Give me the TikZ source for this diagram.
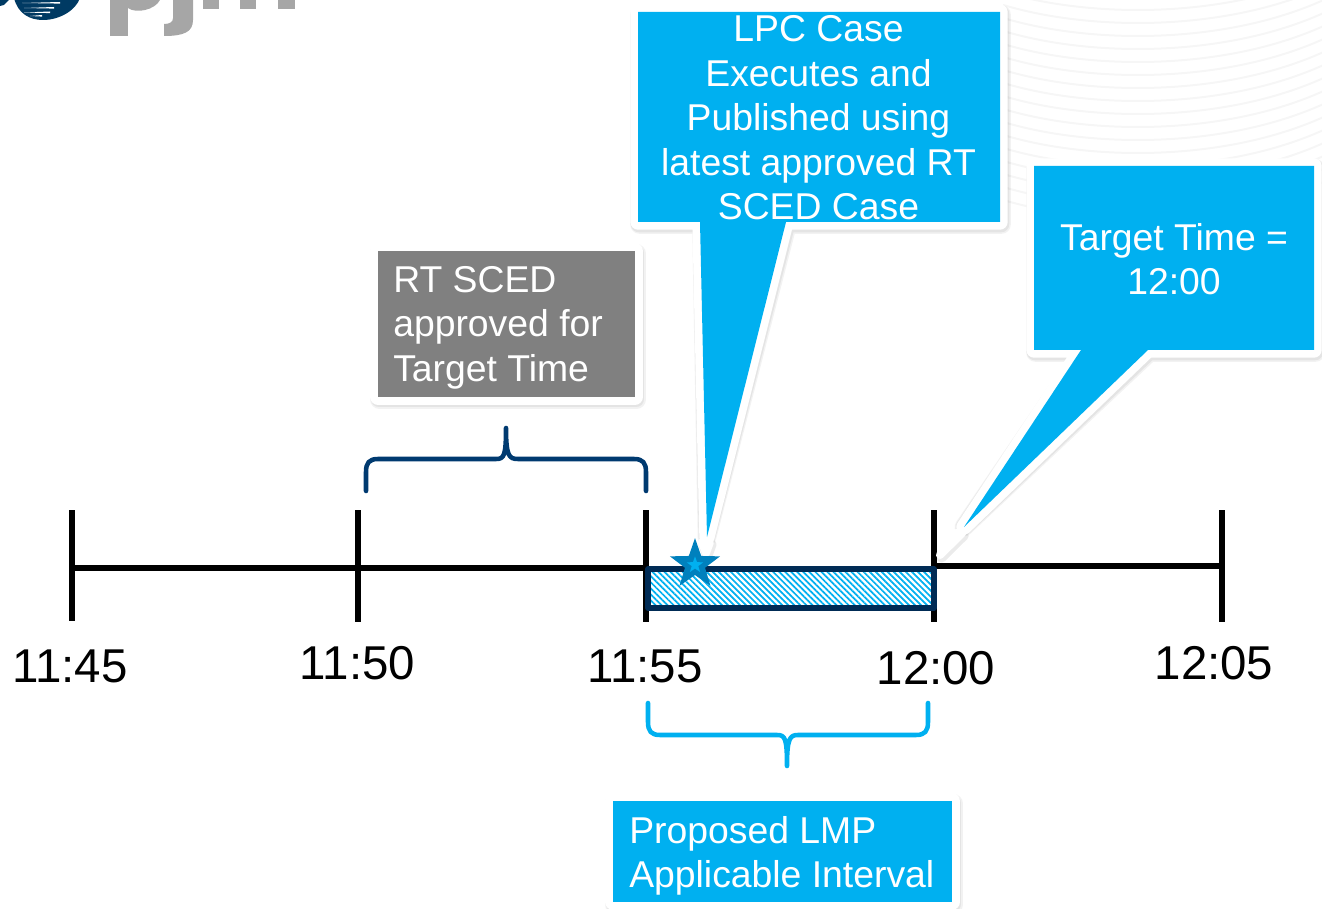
\documentclass[tikz,border=0pt]{standalone}
\usepackage{fontspec}
\setmainfont{Liberation Sans}
\usetikzlibrary{shapes.geometric,patterns.meta}
\definecolor{pjmblue}{HTML}{00B0F0}
\definecolor{pjmnavy}{HTML}{002B55}
\definecolor{bracenavy}{HTML}{003A70}
\definecolor{logonavy}{HTML}{003A63}
\definecolor{logogray}{HTML}{A6A6A6}
\definecolor{stargreen}{HTML}{0080BD}
\definecolor{boxgray}{HTML}{808080}
\definecolor{swirl}{HTML}{F6F6F6}
\tikzset{
  x=0.75pt,y=-0.75pt,
  tick/.style={line width=4.2pt,black},
  axis/.style={line width=4pt,black},
  shadowa/.style={draw=black,opacity=.05,line width=14pt,line join=round,shift={(1.5,2.5)}},
  shadowb/.style={draw=black,opacity=.06,line width=12.5pt,line join=round,shift={(1,2)}},
  borderw/.style={draw=white,line width=11.5pt,line join=round},
  tipshadow/.style={draw=black,opacity=.08,line width=7.5pt,line join=round,shift={(1.5,2.5)}},
  tipwhite/.style={draw=white,fill=white,line width=6pt,line join=round},
  bluecall/.style={fill=pjmblue},
  graycall/.style={fill=boxgray},
  bracea/.style={line width=3.4pt,bracenavy,line cap=round,line join=round},
  braceb/.style={line width=3.4pt,pjmblue,line cap=round,line join=round},
  timelabel/.style={font=\fontsize{35.6pt}{40pt}\selectfont,text=black,inner sep=0pt},
  calltext/.style={font=\fontsize{28pt}{33.4pt}\selectfont,text=white,inner sep=0pt,align=center},
  lefttext/.style={font=\fontsize{28pt}{33.4pt}\selectfont,text=white,inner sep=0pt,align=left,anchor=west},
}
\newcommand{\softbox}[2]{%
  \draw[shadowa] #2; \draw[shadowb] #2; \draw[borderw] #2; \fill[#1] #2;}
\begin{document}
\begin{tikzpicture}
\useasboundingbox (0,0) rectangle (1322,909);
\begin{scope}
\clip (0,0) rectangle (1322,909);
% faint background swirl
\begin{scope}
\clip (1003,0) -- (1322,0) -- (1322,240) -- (1040,240) -- (1003,200) -- cycle;
\foreach \y in {-30,-17,...,200}{
  \draw[swirl,line width=1.5pt] (1000,\y+8) .. controls (1090,\y+36) and (1230,\y+36) .. (1330,\y-12);
}
\end{scope}
% logo
\begin{scope}
\clip (0,0) rectangle (85,24);
\fill[logonavy] (0,-2) -- (80,-2) .. controls (76,10) and (60,20) .. (43,20) .. controls (30,20) and (18,14) .. (14,-2) -- cycle;
\fill[logonavy] (0,0) -- (9,0) -- (4,5) -- (0,6) -- cycle;
\foreach \y/\a/\b in {3/22/60,8/24/54,12.5/24/50,16/30/42}{
  \fill[white] (\a,\y) -- (\b,\y-1) -- (\b,\y+.6) -- cycle;
}
\end{scope}
\fill[logogray] (110,0) -- (128,0) -- (128,36) -- (110,36) -- cycle;
\fill[logogray] (128,0) -- (160,0) .. controls (155,10) and (136,14) .. (128,8) -- cycle;
\fill[logogray] (173,0) -- (193,0) -- (193,20) .. controls (193,32) and (184,36) .. (164,36) -- (164,24) .. controls (170,24) and (173,22) .. (173,18) -- cycle;
\fill[logogray] (203,0) -- (219,0) -- (219,9) -- (203,9) -- cycle;
\fill[logogray] (240,0) -- (256,0) -- (256,9) -- (240,9) -- cycle;
\fill[logogray] (278,0) -- (295,0) -- (295,9) -- (278,9) -- cycle;

% timeline coordinates
\coordinate (t45) at (72,568);
\coordinate (t50) at (358,568);
\coordinate (t55) at (646,568);
\coordinate (t00) at (934,566);
\coordinate (t05) at (1222,566);
\draw[axis] (t45) -- (t55);
\draw[axis] (t00) -- (t05);
\draw[tick] (72,510) -- (72,621);
\draw[tick] (358,510) -- (358,622);
\draw[tick] (646,510) -- (646,622);
\draw[tick] (934,510) -- (934,622);
\draw[tick] (1222,510) -- (1222,622);

% hatched interval
\draw[pjmnavy,line width=4pt,line join=round,pattern={Lines[angle=-45,distance=3.2pt,line width=1.3pt]},pattern color=pjmblue] (648,569) rectangle (934,608);

% callouts
\coordinate (lpctip) at (707,537);
\coordinate (tgtip) at (964,527);
\def\lpcpath{(638,12) -- (1000,12) -- (1000,222) -- (786,222) -- (lpctip) -- (700,222) -- (638,222) -- cycle}
\def\tgpath{(1034,166) -- (1314,166) -- (1314,350) -- (1148,350) -- (tgtip) -- (1081,350) -- (1034,350) -- cycle}
\def\lpctippath{(702,542) -- (710,542) -- (706,553) -- cycle}
\def\tgtippath{(955.8,533) -- (962.2,533) -- (940,555) -- cycle}
\draw[tipshadow] \lpctippath;
\draw[tipshadow] \tgtippath;
\softbox{bluecall}{\lpcpath}
\softbox{bluecall}{\tgpath}
\draw[tipwhite] \lpctippath;
\draw[tipwhite] \tgtippath;
\softbox{graycall}{(378,251) rectangle (635,397)}
\softbox{bluecall}{(613,801) rectangle (952,902)}

% star over the hatched interval
\node[star,star points=5,star point ratio=2.5,fill=stargreen,minimum size=39.5pt,inner sep=0pt] (st) at (695,564.5) {};
\node[star,star points=5,star point ratio=2.5,fill=pjmblue,minimum size=13pt,inner sep=0pt] (sti) at (695,565) {};

% braces
\coordinate (ba) at (366,491);
\coordinate (bb) at (646,491);
\coordinate (bm) at (506,428);
\draw[bracea] (ba) -- (366,472) .. controls (366,463) and (369,459) .. (378,459) -- (496,459) .. controls (504,459) and (506,456) .. (bm) .. controls (506,456) and (509,459) .. (518,459) -- (634,459) .. controls (643,459) and (646,463) .. (646,472) -- (bb);
\coordinate (ca) at (648,703);
\coordinate (cb) at (928,703);
\coordinate (cm) at (787,766);
\draw[braceb] (ca) -- (648,722) .. controls (648,731) and (651,735) .. (660,735) -- (777,735) .. controls (785,735) and (787,738) .. (cm) .. controls (787,738) and (790,735) .. (798,735) -- (916,735) .. controls (925,735) and (928,731) .. (928,722) -- (cb);

% texts
\node[calltext] (lpc) at (818.5,118) {LPC Case\\Executes and\\Published using\\latest approved RT\\SCED Case};
\node[calltext] (tg) at (1174,259) {Target Time =\\12:00};
\node[lefttext] (rt) at (393,327.5) {RT SCED\\approved for\\Target Time};
\node[lefttext] (lmp) at (629,856) {Proposed LMP\\Applicable Interval};
\node[timelabel] (l45) at (70,666) {11:45};
\node[timelabel] (l50) at (357.5,663) {11:50};
\node[timelabel] (l55) at (645,666) {11:55};
\node[timelabel] (l00) at (936,668) {12:00};
\node[timelabel] (l05) at (1214,663) {12:05};
\end{scope}
\end{tikzpicture}
\end{document}
